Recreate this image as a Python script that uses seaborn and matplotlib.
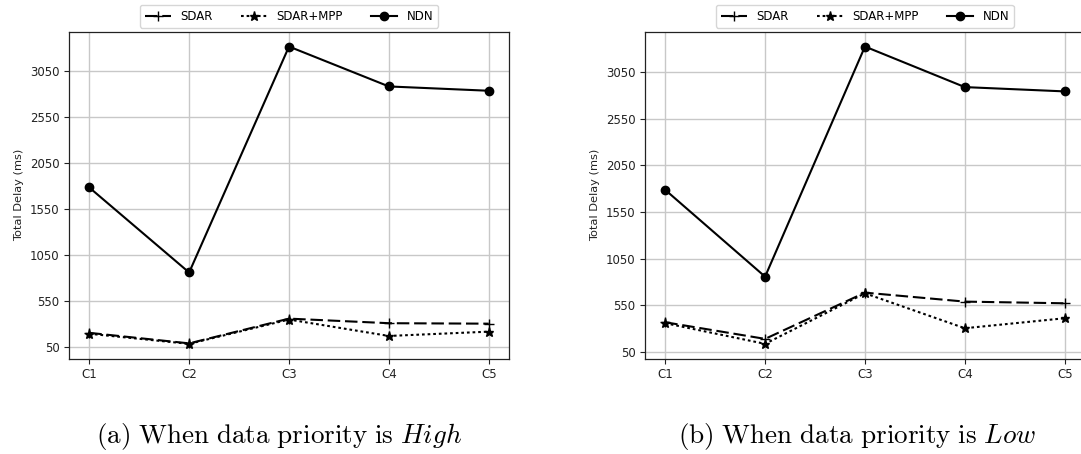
import numpy as np
import pandas as pd
import matplotlib
matplotlib.use("Agg")
import matplotlib.pyplot as plt
import seaborn as sns

categories = ["C1", "C2", "C3", "C4", "C5"]

# (a) data priority High
high_sdar = [200, 85, 355, 305, 300]
high_sdar_mpp = [190, 80, 345, 166, 213]
high_ndn = [1785, 858, 3322, 2887, 2840]

# (b) data priority Low
low_sdar = [370, 192, 687, 591, 573]
low_sdar_mpp = [360, 139, 680, 306, 413]
low_ndn = [1787, 858, 3321, 2887, 2841]

ytick_values = [50, 550, 1050, 1550, 2050, 2550, 3050]
series_names = ["SDAR", "SDAR+MPP", "NDN"]
captions = [r"$\mathrm{(a)\ When\ data\ priority\ is}\ High$",
            r"$\mathrm{(b)\ When\ data\ priority\ is}\ Low$"]

plt.rcParams["mathtext.fontset"] = "cm"
plt.rcParams["font.family"] = ["DejaVu Sans"]

fig = plt.figure(figsize=(10.81, 4.54), dpi=100)
ax_a = fig.add_axes([0.0641, 0.2099, 0.4065, 0.7203])
ax_b = fig.add_axes([0.5969, 0.2099, 0.4065, 0.7203])

styles = [
    dict(linestyle=(0, (6, 2.3)), marker="+", markersize=7),
    dict(linestyle=(0, (1.3, 1.4)), marker="*", markersize=6.5),
    dict(linestyle="-", marker="o", markersize=6),
]

for ax, data in [(ax_a, [high_sdar, high_sdar_mpp, high_ndn]),
                 (ax_b, [low_sdar, low_sdar_mpp, low_ndn])]:
    for name, vals, st in zip(series_names, data, styles):
        sns.lineplot(x=categories, y=vals, ax=ax, color="black", label=name,
                     linewidth=1.5, markeredgecolor="black",
                     markerfacecolor="black", markeredgewidth=1.0,
                     sort=False, **st)
    ax.set_yticks(ytick_values)
    ax.set_yticklabels([str(v) for v in ytick_values])
    ax.tick_params(labelsize=8.5, colors="#222222", labelcolor="#222222")
    ax.set_ylabel("Total Delay (ms)", fontsize=8.2, color="#222222")
    ax.set_xlabel("")
    ax.grid(True, color="#c8c8c8", linewidth=1.0)
    ax.set_axisbelow(True)
    for sp in ax.spines.values():
        sp.set_color("#222222")
        sp.set_linewidth(0.9)
    leg = ax.legend(loc="lower center", bbox_to_anchor=(0.5, 1.0), ncol=3,
                    fontsize=8.5, columnspacing=2.4, handlelength=2.2,
                    borderaxespad=0.35, frameon=True, fancybox=True)
    leg.get_frame().set_edgecolor("#cccccc")

fig.text(0.258, 0.024, captions[0], fontsize=19.5, ha="center", va="baseline")
fig.text(0.793, 0.024, captions[1], fontsize=19.5, ha="center", va="baseline")

fig.savefig("out.png", dpi=100, facecolor="white")
